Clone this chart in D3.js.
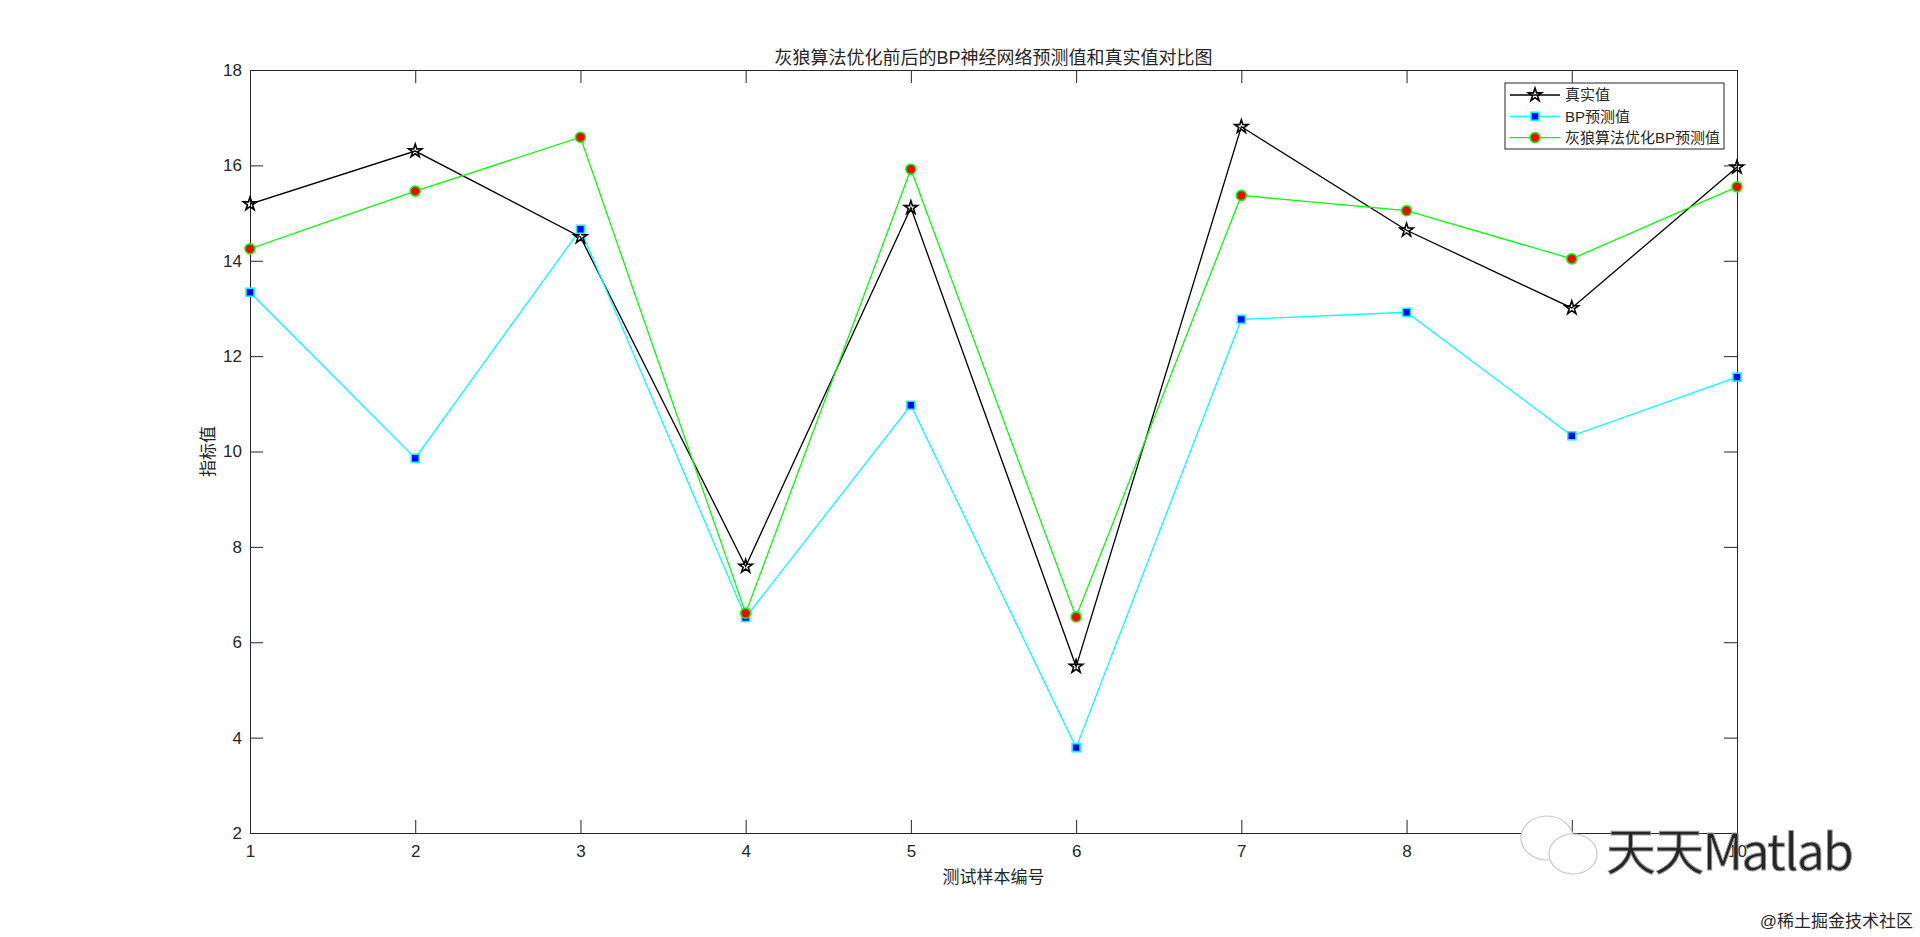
<!DOCTYPE html>
<meta charset="utf-8">
<script src="https://d3js.org/d3.v7.min.js"></script>
<style>
  body { margin: 0; background: #fff; }
  text { font-family: "Liberation Sans", Arial, "Noto Sans CJK SC", sans-serif; fill: #262626; }
  .cjk { font-family: "Liberation Sans", "Noto Sans CJK SC", sans-serif; }
</style>
<body>
<div id="my_dataviz"></div>
<script>
  // sample numbers and series values
  const samples = [1, 2, 3, 4, 5, 6, 7, 8, 9, 10];
  const realVals = [15.19, 16.30, 14.50, 7.59, 15.11, 5.49, 16.81, 14.64, 13.01, 15.96];
  const bpVals   = [13.34, 9.86, 14.66, 6.52, 10.97, 3.79, 12.77, 12.92, 10.33, 11.56];
  const gwoVals  = [14.25, 15.46, 16.59, 6.61, 15.92, 6.53, 15.37, 15.05, 14.04, 15.55];
  const yTicks = [2, 4, 6, 8, 10, 12, 14, 16, 18];
  const seriesNames = ["真实值", "BP预测值", "灰狼算法优化BP预测值"];

  const W = 1920, H = 937;
  const margin = {top: 70, right: 183, bottom: 104, left: 250},
    width = W - margin.left - margin.right,
    height = H - margin.top - margin.bottom;

  const svg = d3.select("#my_dataviz")
    .append("svg")
      .attr("width", W)
      .attr("height", H);

  const g = svg.append("g")
      .attr("transform", `translate(${margin.left}, ${margin.top})`);

  const x = d3.scaleLinear().domain([1, 10]).range([0, width]);
  const y = d3.scaleLinear().domain([2, 18]).range([height, 0]);

  // axes, ticks pointing inward, box style like matlab
  const axColor = "#262626";
  g.append("g")
    .attr("transform", `translate(0, ${height})`)
    .call(d3.axisBottom(x).tickValues(samples).tickFormat(d3.format("d"))
      .tickSizeInner(-13).tickSizeOuter(0).tickPadding(12))
    .call(a => a.selectAll("text").style("font-size", "17px"));
  g.append("g")
    .call(d3.axisLeft(y).tickValues(yTicks)
      .tickSizeInner(-13).tickSizeOuter(0).tickPadding(8))
    .call(a => a.selectAll("text").style("font-size", "17px"));
  g.append("g")
    .call(d3.axisTop(x).tickValues(samples).tickFormat("")
      .tickSizeInner(-13).tickSizeOuter(0));
  g.append("g")
    .attr("transform", `translate(${width}, 0)`)
    .call(d3.axisRight(y).tickValues(yTicks).tickFormat("")
      .tickSizeInner(-13).tickSizeOuter(0));
  g.selectAll(".domain, .tick line").attr("stroke", axColor).attr("stroke-width", 1);
  g.selectAll(".tick text").attr("fill", axColor);

  const series = [
    {name: seriesNames[0], vals: realVals, line: "#000000", marker: "star"},
    {name: seriesNames[1], vals: bpVals, line: "#00ffff", marker: "square"},
    {name: seriesNames[2], vals: gwoVals, line: "#00ff00", marker: "circle"}
  ];

  const lineGen = d3.line()
    .x((d, i) => x(samples[i]))
    .y(d => y(d));

  function drawMarker(sel, kind) {
    if (kind === "star") {
      sel.append("path")
        .attr("d", d3.symbol().type(d3.symbolStar).size(55))
        .attr("fill", "none")
        .attr("stroke", "#000")
        .attr("stroke-width", 1.6);
    } else if (kind === "square") {
      sel.append("path")
        .attr("d", d3.symbol().type(d3.symbolSquare).size(64))
        .attr("fill", "#0000ff")
        .attr("stroke", "#00ffff")
        .attr("stroke-width", 1.6);
    } else {
      sel.append("circle")
        .attr("r", 5)
        .attr("fill", "#ff0000")
        .attr("stroke", "#00ff00")
        .attr("stroke-width", 1.6);
    }
  }

  series.forEach(s => {
    g.append("path")
      .datum(s.vals)
      .attr("fill", "none")
      .attr("stroke", s.line)
      .attr("stroke-width", 1.3)
      .attr("d", lineGen);
  });
  series.forEach(s => {
    g.append("g")
      .selectAll("g")
      .data(s.vals)
      .enter().append("g")
        .attr("transform", (d, i) => `translate(${x(samples[i])}, ${y(d)})`)
        .each(function() { drawMarker(d3.select(this), s.marker); });
  });

  // legend
  const leg = svg.append("g").attr("transform", "translate(1505, 83)");
  leg.append("rect")
    .attr("width", 219).attr("height", 66)
    .attr("fill", "#fff").attr("stroke", axColor).attr("stroke-width", 1);
  series.forEach((s, i) => {
    const row = leg.append("g").attr("transform", `translate(0, ${12 + i * 21.3})`);
    row.append("line")
      .attr("x1", 5).attr("x2", 55)
      .attr("stroke", s.line).attr("stroke-width", 1.3);
    drawMarker(row.append("g").attr("transform", "translate(30, 0)"), s.marker);
    row.append("text")
      .attr("class", "cjk")
      .attr("x", 60).attr("dy", "0.36em")
      .style("font-size", "15px")
      .text(s.name);
  });

  // title and axis labels
  svg.append("text")
    .attr("class", "cjk")
    .attr("x", margin.left + width / 2).attr("y", 64)
    .attr("text-anchor", "middle")
    .style("font-size", "18px")
    .text("灰狼算法优化前后的BP神经网络预测值和真实值对比图");
  svg.append("text")
    .attr("class", "cjk")
    .attr("x", margin.left + width / 2).attr("y", 883)
    .attr("text-anchor", "middle")
    .style("font-size", "17px")
    .text("测试样本编号");
  svg.append("text")
    .attr("class", "cjk")
    .attr("transform", `translate(214, ${margin.top + height / 2}) rotate(-90)`)
    .attr("text-anchor", "middle")
    .style("font-size", "17px")
    .text("指标值");

  // watermarks
  const wm = svg.append("g");
  wm.append("ellipse").attr("cx", 1547).attr("cy", 838).attr("rx", 26).attr("ry", 22)
    .attr("fill", "#fff").attr("stroke", "#c8c8c8").attr("stroke-width", 1.2);
  wm.append("ellipse").attr("cx", 1573).attr("cy", 854).attr("rx", 24).attr("ry", 20)
    .attr("fill", "#fff").attr("stroke", "#c8c8c8").attr("stroke-width", 1.2);
  wm.append("text")
    .attr("x", 1606).attr("y", 870)
    .attr("textLength", 248)
    .style("font-size", "50px")
    .style("font-family", "'Noto Sans CJK SC', 'DejaVu Sans', sans-serif")
    .attr("fill", "#fff").attr("stroke", "#9a9a9a").attr("stroke-width", 0.9)
    .text("天天Matlab");
  wm.append("text")
    .attr("x", 1913).attr("y", 927)
    .attr("text-anchor", "end")
    .style("font-size", "17px")
    .attr("fill", "#b4b4b4")
    .text("@稀土掘金技术社区");
</script>
</body>
